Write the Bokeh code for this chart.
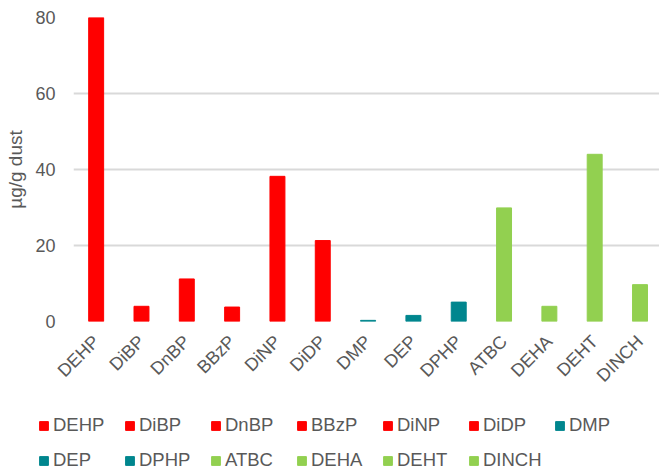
import math
from bokeh.plotting import figure
from bokeh.layouts import column, row
from bokeh.models import ColumnDataSource, Range1d, FixedTicker
from bokeh.embed import file_html
from bokeh.resources import INLINE

compounds = ["DEHP", "DiBP", "DnBP", "BBzP", "DiNP", "DiDP", "DMP",
             "DEP", "DPHP", "ATBC", "DEHA", "DEHT", "DINCH"]
values = [80.0, 4.0, 11.2, 3.8, 38.2, 21.3, 0.3, 1.6, 5.1, 29.9, 4.0, 44.0, 9.7]
groups = ["red"] * 6 + ["teal"] * 3 + ["green"] * 4
group_colors = {"red": "#FF0000", "teal": "#00868E", "green": "#92D050"}
y_ticks = [0, 20, 40, 60, 80]

FONT = "Liberation Sans"
GREY = "#595959"

src = ColumnDataSource(dict(
    x=list(range(len(compounds))),
    top=values,
    name=compounds,
    color=[group_colors[g] for g in groups],
))

# ---- main chart ----
p = figure(width=659, height=400, output_backend="svg",
           toolbar_location=None, min_border_left=73, min_border_right=0,
           min_border_top=17, min_border_bottom=79,
           x_range=Range1d(-0.5, 12.43), y_range=Range1d(0, 80))
p.outline_line_color = None

p.vbar(x="x", top="top", width=0.33, color="color", source=src)

p.xaxis.ticker = FixedTicker(ticks=list(range(len(compounds))))
p.xaxis.major_label_overrides = {i: c for i, c in enumerate(compounds)}
p.xaxis.major_label_orientation = math.pi / 4
p.yaxis.ticker = FixedTicker(ticks=y_ticks)
p.yaxis.axis_label = "µg/g dust"

for ax in (p.xaxis[0], p.yaxis[0]):
    ax.axis_line_color = None
    ax.major_tick_line_color = None
    ax.minor_tick_line_color = None
    ax.major_tick_out = 0
    ax.major_tick_in = 0
    ax.minor_tick_out = 0
    ax.minor_tick_in = 0
    ax.major_label_text_font = FONT
    ax.major_label_text_font_size = "18px"
    ax.major_label_text_color = GREY
p.xaxis.major_label_standoff = 17
p.yaxis.major_label_standoff = 18
p.yaxis.axis_label_text_font = FONT
p.yaxis.axis_label_text_font_size = "19px"
p.yaxis.axis_label_text_font_style = "normal"
p.yaxis.axis_label_text_color = GREY
p.yaxis.axis_label_standoff = 6

p.xgrid.grid_line_color = None
p.ygrid.grid_line_color = "#D9D9D9"
p.ygrid.grid_line_width = 2

# ---- legend strip (same data; its renderer is hidden, only the legend shows) ----
q = figure(width=659, height=72, output_backend="svg", toolbar_location=None,
           min_border=0, x_axis_location=None, y_axis_location=None,
           x_range=Range1d(-0.5, 12.43), y_range=Range1d(0, 80))
q.outline_line_color = None
q.xgrid.grid_line_color = None
q.ygrid.grid_line_color = None
rq = q.vbar(x="x", top="top", width=0.33, color="color", source=src,
            legend_field="name")
rq.visible = False
leg = q.legend[0]
leg.click_policy = "none"
leg.inactive_fill_alpha = 0
leg.orientation = "horizontal"
leg.ncols = 7
leg.location = (38, 0)
leg.label_text_font = FONT
leg.label_text_font_size = "18.5px"
leg.label_text_color = GREY
leg.glyph_width = 11
leg.glyph_height = 11
leg.label_standoff = 4
leg.label_width = 60
leg.label_height = 24
leg.spacing = 11
leg.padding = 0
leg.margin = 0
leg.border_line_color = None
leg.background_fill_alpha = 0

layout = column(p, row(q, spacing=0), spacing=0)
open("out.html", "w").write(file_html(layout, INLINE))
